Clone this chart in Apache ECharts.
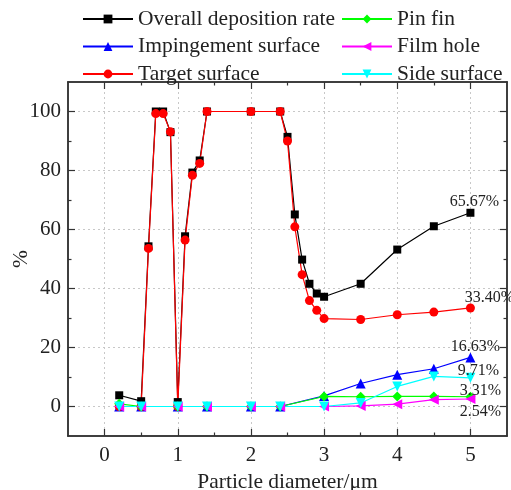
<!DOCTYPE html>
<html>
<head>
<meta charset="utf-8">
<script src="https://cdn.jsdelivr.net/npm/echarts@6/dist/echarts.min.js"></script>
<style>
  html, body { margin: 0; padding: 0; background: #fff; }
  #chart { width: 511px; height: 490px; }
</style>
</head>
<body>
<div id="chart"></div>
<script>
// Particle diameters (μm) for the overall / target-surface curves
const xFine = [0.2, 0.5, 0.6, 0.7, 0.8, 0.9, 1.0, 1.1, 1.2, 1.3, 1.4, 2.0, 2.4, 2.5, 2.6, 2.7, 2.8, 2.9, 3.0, 3.5, 4.0, 4.5, 5.0];
const overall = [3.8, 1.8, 54.3, 100, 100, 93.0, 1.5, 57.7, 79.3, 83.4, 100, 100, 100, 91.4, 65.1, 49.8, 41.6, 38.3, 37.2, 41.6, 53.2, 61.1, 65.67];
const target  = [0, 0, 53.6, 99.3, 99.3, 93.1, 0, 56.4, 78.4, 82.4, 100, 100, 100, 90.0, 60.9, 44.7, 35.9, 32.6, 29.8, 29.5, 31.1, 32.0, 33.40];

// Particle diameters (μm) for the remaining surfaces
const xCoarse = [0.2, 0.5, 1.0, 1.4, 2.0, 2.4, 3.0, 3.5, 4.0, 4.5, 5.0];
const impingement = [0, 0, 0, 0, 0, 0, 3.6, 7.8, 10.8, 12.8, 16.63];
const pinFin      = [0.9, 0, 0, 0, 0, 0, 3.4, 3.3, 3.4, 3.4, 3.31];
const filmHole    = [0, 0, 0, 0, 0, 0, 0, 0.2, 0.8, 2.3, 2.54];
const sideSurf    = [0, 0, 0, 0, 0, 0, 0, 1.2, 6.8, 10.2, 9.71];

const xMajor = [0, 1, 2, 3, 4, 5];
const xMinor = [0.5, 1.5, 2.5, 3.5, 4.5];
const yMajor = [0, 20, 40, 60, 80, 100];
const yMinor = [10, 30, 50, 70, 90];

const FONT = '"Liberation Serif", "Times New Roman", serif';
const AXIS_COLOR = '#333';

function pairs(xs, ys) { return xs.map((x, i) => [x, ys[i]]); }

// Only the last point of each curve carries its value as a label
function withEndLabel(xs, ys, offset) {
  const d = pairs(xs, ys);
  const last = d.length - 1;
  return d.map((p, i) => i === last ? {
    value: p,
    label: {
      show: true, position: 'inside', offset: offset,
      formatter: ys[last].toFixed(2) + '%',
      fontFamily: FONT, fontSize: 16, color: '#222'
    }
  } : p);
}

function makeX(position, values, len, showLabel, name) {
  return {
    type: 'value', position: position, min: -0.5, max: 5.5,
    name: name || '', nameLocation: 'middle', nameGap: 33,
    nameTextStyle: { fontFamily: FONT, fontSize: 21.5, color: '#222' },
    axisLine: { show: true, onZero: false, lineStyle: { color: AXIS_COLOR, width: 1.5 } },
    axisTick: { show: true, inside: true, length: len, customValues: values, lineStyle: { color: AXIS_COLOR, width: 1.2 } },
    axisLabel: { show: showLabel, customValues: values, fontFamily: FONT, fontSize: 21, color: '#222', margin: 9 },
    splitLine: { show: false }
  };
}
function makeY(position, values, len, showLabel, name) {
  return {
    type: 'value', position: position, min: -10, max: 110,
    name: name || '', nameLocation: 'middle', nameGap: 36, nameRotate: 90,
    nameMoveOverlap: false,
    nameTextStyle: { fontFamily: FONT, fontSize: 21.5, color: '#222' },
    axisLine: { show: true, onZero: false, lineStyle: { color: AXIS_COLOR, width: 1.5 } },
    axisTick: { show: true, inside: true, length: len, customValues: values, lineStyle: { color: AXIS_COLOR, width: 1.2 } },
    axisLabel: { show: showLabel, customValues: values, fontFamily: FONT, fontSize: 21, color: '#222', margin: 7 },
    splitLine: { show: false }
  };
}

const gridLineStyle = { color: '#c8c8c8', type: [2, 3], width: 1 };

function line(name, xs, ys, color, symbol, size, rotate, offset) {
  return {
    name: name, type: 'line',
    data: offset ? withEndLabel(xs, ys, offset) : pairs(xs, ys),
    symbol: symbol, symbolSize: size, symbolRotate: rotate || 0,
    lineStyle: { color: color, width: 1.2 },
    itemStyle: { color: color },
    xAxisIndex: 0, yAxisIndex: 0,
    z: 3
  };
}

const legendText = { fontFamily: FONT, fontSize: 21.5, color: '#222' };

const chart = echarts.init(document.getElementById('chart'), null, { renderer: 'canvas' });

chart.setOption({
  backgroundColor: '#fff',
  animation: false,
  grid: { left: 68, right: 4, top: 82, bottom: 54, containLabel: false, outerBoundsMode: 'none' },
  legend: [
    {
      data: ['Overall deposition rate', 'Impingement surface', 'Target surface'],
      orient: 'vertical', left: 77, top: 3, itemGap: 5.5,
      itemWidth: 50, itemHeight: 11,
      textStyle: legendText
    },
    {
      data: ['Pin fin', 'Film hole', 'Side surface'],
      orient: 'vertical', left: 336, top: 3, itemGap: 5.5,
      itemWidth: 50, itemHeight: 11,
      textStyle: legendText
    }
  ],
  xAxis: [
    Object.assign(makeX('bottom', xMajor, 7, true, 'Particle diameter/μm'), {
      splitLine: { show: true, lineStyle: gridLineStyle }
    }),
    makeX('bottom', xMinor, 3.5, false),
    makeX('top', xMajor, 7, false),
    makeX('top', xMinor, 3.5, false)
  ],
  yAxis: [
    Object.assign(makeY('left', yMajor, 7, true, '%'), {
      splitLine: { show: true, lineStyle: gridLineStyle }
    }),
    makeY('left', yMinor, 3.5, false),
    makeY('right', yMajor, 7, false),
    makeY('right', yMinor, 3.5, false)
  ],
  series: [
    line('Overall deposition rate', xFine, overall, '#000000', 'rect', 8, 0, [4, -11]),
    line('Impingement surface', xCoarse, impingement, '#0000ff', 'triangle', 10, 0, [5, -11]),
    line('Target surface', xFine, target, '#ff0000', 'circle', 9, 0, [19, -10]),
    line('Pin fin', xCoarse, pinFin, '#00ff00', 'diamond', 10, 0, [10, -6]),
    line('Film hole', xCoarse, filmHole, '#ff00ff', 'triangle', 10, 90, [10, 13]),
    line('Side surface', xCoarse, sideSurf, '#00ffff', 'triangle', 10, 180, [8, -7])
  ]
});
</script>
</body>
</html>
